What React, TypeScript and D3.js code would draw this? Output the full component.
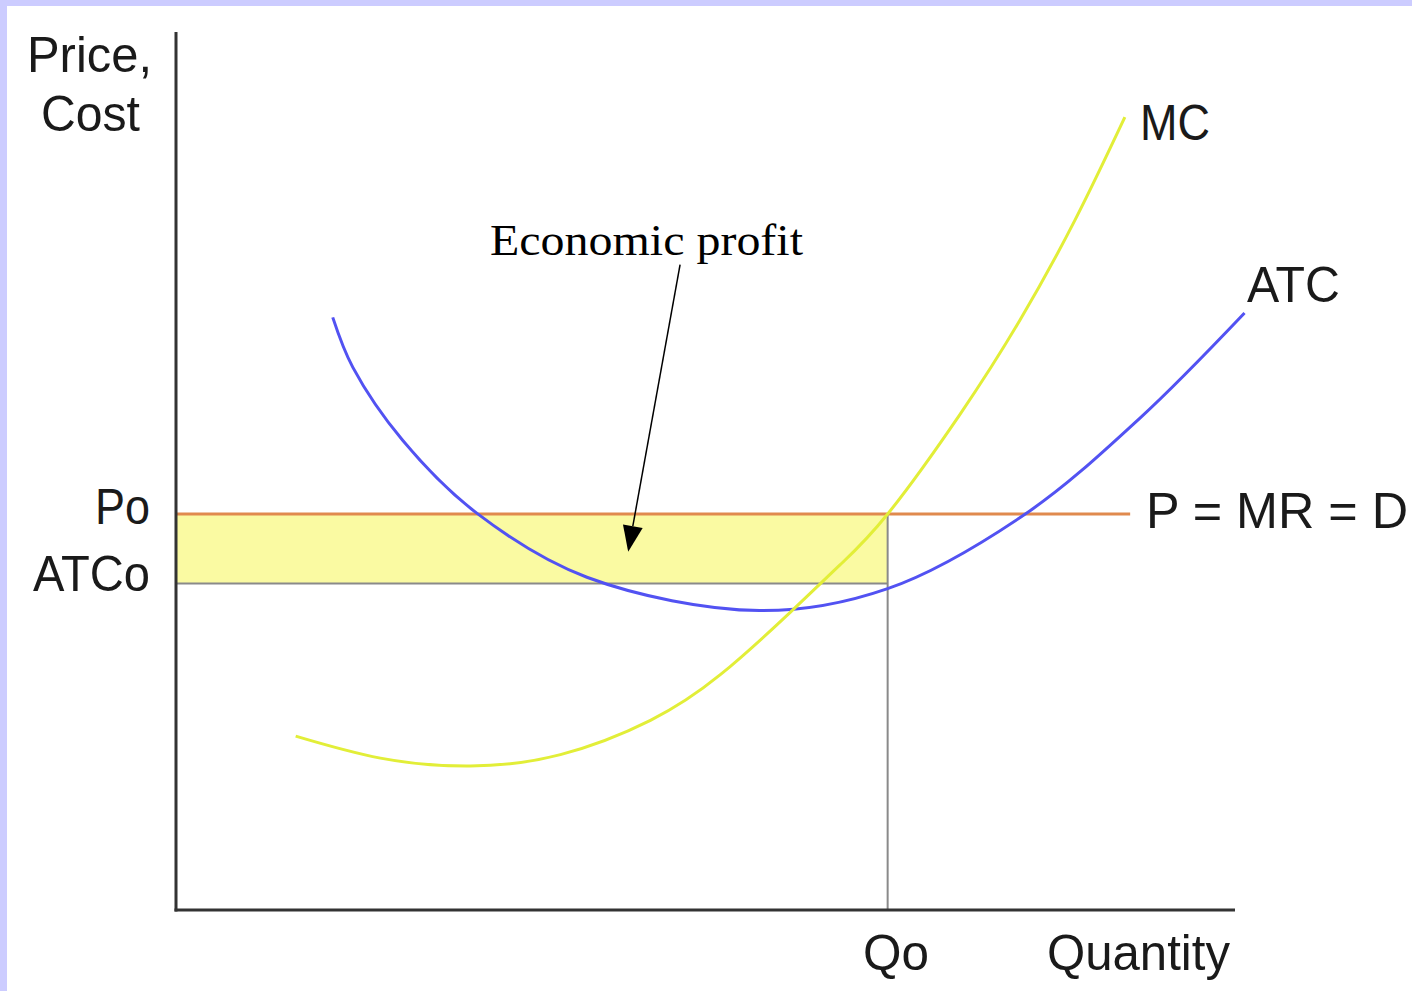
import React from "react";
import * as d3 from "d3";

// Quantity / price in abstract units (0..100)
const atcQ = [14.8, 16.7, 21.4, 28.4, 38.8, 55.1, 67.2, 80.2, 91.0, 100.9];
const atcP = [67.5, 61.8, 53.5, 45.2, 37.9, 34.1, 36.6, 45.1, 56.0, 68.0];
const mcQ = [11.3, 19.3, 27.8, 36.3, 44.8, 51.4, 58.0, 62.7, 67.2, 74.0, 79.7, 84.9, 89.6];
const mcP = [19.8, 17.3, 16.4, 17.7, 21.6, 26.8, 33.9, 39.3, 45.1, 56.4, 67.2, 78.6, 90.3];
const Po = 45.1;
const ATCo = 37.2;
const Qo = 67.2;
const demandEndQ = 90.1;
const arrowFrom = [47.6, 73.5];
const arrowTo = [42.7, 40.8];

const W = 1412;
const H = 991;

export default function App() {
  const x = d3.scaleLinear().domain([0, 100]).range([176, 1235]);
  const y = d3.scaleLinear().domain([0, 100]).range([910, 32]);
  const atcLine = d3
    .line<[number, number]>()
    .x((d) => x(d[0]))
    .y((d) => y(d[1]))
    .curve(d3.curveCatmullRom.alpha(0.5));
  const mcLine = d3
    .line<[number, number]>()
    .x((d) => x(d[0]))
    .y((d) => y(d[1]))
    .curve(d3.curveNatural);
  const atc = atcQ.map((q, i) => [q, atcP[i]] as [number, number]);
  const mc = mcQ.map((q, i) => [q, mcP[i]] as [number, number]);

  const sans = "'Liberation Sans', Arial, sans-serif";
  const lbl = (t: string, x0: number, base: number, len: number, size = 50) => (
    <text
      x={x0}
      y={base}
      fontFamily={sans}
      fontSize={size}
      fill="#1a1a1a"
      textLength={len}
      lengthAdjust="spacingAndGlyphs"
    >
      {t}
    </text>
  );

  // arrow geometry
  const ax1 = x(arrowFrom[0]);
  const ay1 = y(arrowFrom[1]);
  const ax2 = x(arrowTo[0]);
  const ay2 = y(arrowTo[1]);
  const ang = Math.atan2(ay2 - ay1, ax2 - ax1);
  const hl = 26;
  const hw = 10;
  const bx = ax2 - hl * Math.cos(ang);
  const by = ay2 - hl * Math.sin(ang);
  const head = [
    [ax2, ay2],
    [bx + hw * Math.sin(ang), by - hw * Math.cos(ang)],
    [bx - hw * Math.sin(ang), by + hw * Math.cos(ang)],
  ]
    .map((p) => p.join(","))
    .join(" ");

  return (
    <svg
      width={W}
      height={H}
      style={{ position: "absolute", left: 0, top: 0, display: "block" }}
    >
      <rect x={0} y={0} width={W} height={H} fill="#ffffff" />
      <rect x={0} y={0} width={W} height={6} fill="#ccccff" />
      <rect x={0} y={0} width={7} height={H} fill="#ccccff" />

      {/* profit rectangle */}
      <rect
        x={x(0)}
        y={y(Po)}
        width={x(Qo) - x(0)}
        height={y(ATCo) - y(Po)}
        fill="#fafaa2"
      />
      {/* ATCo line and Qo line */}
      <line x1={x(0)} x2={x(Qo)} y1={y(ATCo)} y2={y(ATCo)} stroke="#8a8a8a" strokeWidth={2} />
      <line x1={x(Qo)} x2={x(Qo)} y1={y(Po)} y2={y(0)} stroke="#8a8a8a" strokeWidth={2} />

      {/* P = MR = D */}
      <line x1={x(0)} x2={x(demandEndQ)} y1={y(Po)} y2={y(Po)} stroke="#e08a4e" strokeWidth={3} />

      {/* curves */}
      <path d={atcLine(atc) || ""} fill="none" stroke="#5252f2" strokeWidth={3} />
      <path d={mcLine(mc) || ""} fill="none" stroke="#e2ee38" strokeWidth={3} />

      {/* axes */}
      <line x1={x(0)} x2={x(0)} y1={y(100)} y2={y(0) + 1.5} stroke="#333" strokeWidth={3} />
      <line x1={x(0) - 1.5} x2={x(100)} y1={y(0)} y2={y(0)} stroke="#333" strokeWidth={3} />

      {/* arrow */}
      <line x1={ax1} y1={ay1} x2={bx} y2={by} stroke="#000" strokeWidth={1.5} />
      <polygon points={head} fill="#000" />

      {/* labels */}
      {lbl("Price,", 27, 72, 125)}
      {lbl("Cost", 41, 131, 99)}
      {lbl("Po", 95, 524, 55)}
      {lbl("ATCo", 33, 591, 117)}
      {lbl("P = MR = D", 1146, 528, 262)}
      {lbl("MC", 1140, 140, 70)}
      {lbl("ATC", 1247, 302, 93)}
      {lbl("Qo", 863, 970, 66)}
      {lbl("Quantity", 1047, 970, 183)}
      <text
        x={490}
        y={255}
        fontFamily="'Liberation Serif', 'Times New Roman', serif"
        fontSize={44}
        fill="#000"
        textLength={313}
        lengthAdjust="spacingAndGlyphs"
      >
        Economic profit
      </text>
    </svg>
  );
}
